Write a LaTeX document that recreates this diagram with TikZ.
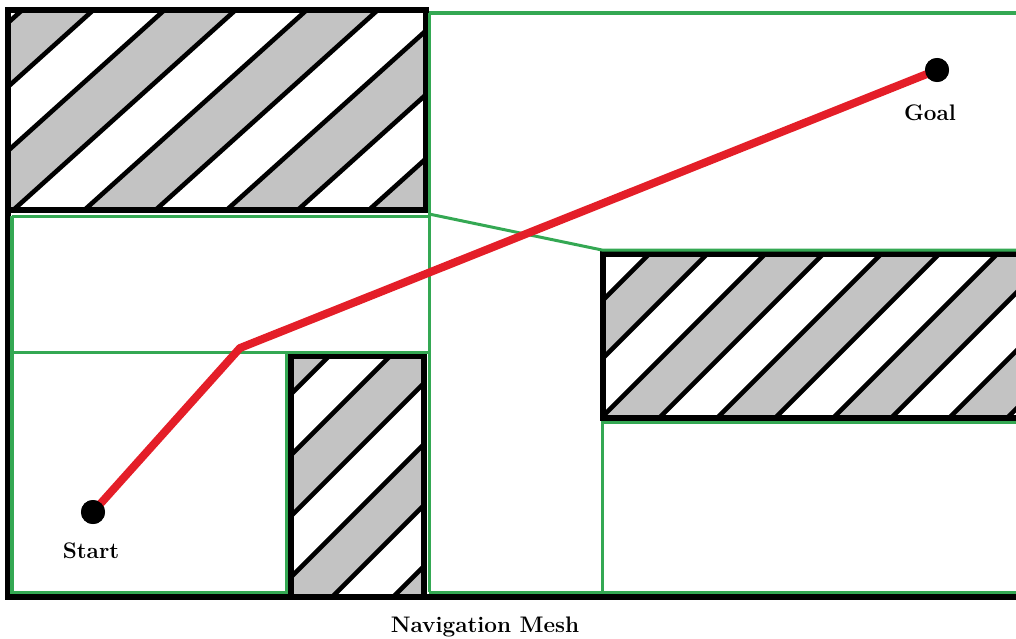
\documentclass[tikz,border=0pt]{standalone}
\usepackage{tikz}
\usetikzlibrary{positioning}
\usepackage{xcolor}

\definecolor{hatchgray}{RGB}{195,195,195}
\definecolor{meshgreen}{RGB}{52,168,83}
\definecolor{routered}{RGB}{228,30,40}

% obstacle: corners (#1,#2) (#3,#4), stripe slope #5, first stripe #6, stripe gap #7
\newcommand{\hatchblock}[7]{%
  \begin{scope}
    \clip (#1,#2) rectangle (#3,#4);
    \foreach \k in {0,2,...,12}
      \fill[hatchgray] ({(#6+\k*#7-(#2-20))/#5},{#2-20}) -- ({(#6+(\k+1)*#7-(#2-20))/#5},{#2-20})
        -- ({(#6+(\k+1)*#7-(#4+20))/#5},{#4+20}) -- ({(#6+\k*#7-(#4+20))/#5},{#4+20}) -- cycle;
    \foreach \k in {0,...,12}
      \draw[stripe] ({(#6+\k*#7-(#2-20))/#5},{#2-20}) -- ({(#6+\k*#7-(#4+20))/#5},{#4+20});
  \end{scope}
  \draw[wall] (#1,#2) rectangle (#3,#4);
}

\begin{document}
\begin{tikzpicture}[x=0.025cm,y=-0.025cm,
  wall/.style={line width=0.14cm,black},
  stripe/.style={line width=0.115cm,black},
  mesh/.style={line width=0.075cm,meshgreen},
  route/.style={line width=0.2cm,routered},
  dot/.style={circle,fill=black,inner sep=0pt,minimum size=0.6cm},
  lbl/.style={font=\bfseries\fontsize{16}{18}\selectfont}]
\useasboundingbox (0,0) rectangle (1016,638);
\clip (0,0) rectangle (1016,638);

% obstacles
\hatchblock{8}{10}{426}{210}{0.9}{30}{64}
\hatchblock{603}{254}{1030}{418}{1}{903}{58}
\hatchblock{291}{356}{424}{597}{1}{624}{61}

% outer frame
\draw[wall] (8,10) -- (8,597) -- (1030,597);

% navigation mesh
\draw[mesh] (12,216) -- (429,216);
\draw[mesh] (429,13) -- (1030,13);
\draw[mesh] (429,13) -- (429,592);
\draw[mesh] (12,216) -- (12,592) -- (286,592) -- (286,352);
\draw[mesh] (12,352) -- (429,352);
\draw[mesh] (429,214) -- (602,250) -- (1030,250);
\draw[mesh] (429,592) -- (1030,592);
\draw[mesh] (602,592) -- (602,422) -- (1030,422);

% route
\node[dot] (start) at (93,512) {};
\node[dot] (goal) at (937,70) {};
\coordinate (bend) at (240,348);
\draw[route,line join=round] (start.center) -- (bend) -- (goal.center);
\node[dot] at (start) {};
\node[dot] at (goal) {};

\node[lbl] (startlbl) at (91,551) {Start};
\node[lbl] (goallbl) at (930,113) {Goal};
\node[lbl] (title) at (485,627) {Navigation Mesh};
\end{tikzpicture}
\end{document}
